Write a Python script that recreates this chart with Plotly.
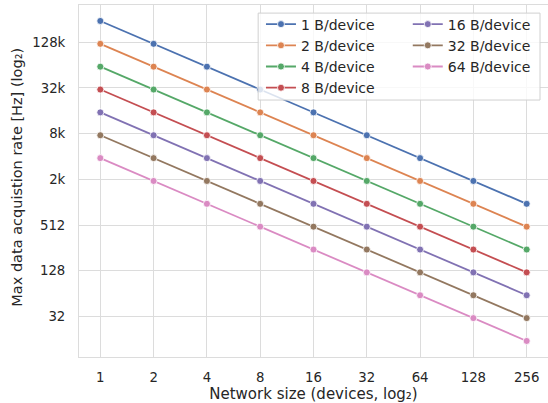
import math
import plotly.graph_objects as go

network_sizes = [1, 2, 4, 8, 16, 32, 64, 128, 256]
x_tick_labels = ["1", "2", "4", "8", "16", "32", "64", "128", "256"]
y_tick_values = [32, 128, 512, 2048, 8192, 32768, 131072]
y_tick_labels = ["32", "128", "512", "2k", "8k", "32k", "128k"]

rate_1B = [250000, 125000, 62500, 31250, 15625, 7812.5, 3906.25, 1953.125, 976.5625]
rate_2B = [125000, 62500, 31250, 15625, 7812.5, 3906.25, 1953.125, 976.5625, 488.28125]
rate_4B = [62500, 31250, 15625, 7812.5, 3906.25, 1953.125, 976.5625, 488.28125, 244.140625]
rate_8B = [31250, 15625, 7812.5, 3906.25, 1953.125, 976.5625, 488.28125, 244.140625, 122.0703125]
rate_16B = [15625, 7812.5, 3906.25, 1953.125, 976.5625, 488.28125, 244.140625, 122.0703125, 61.03515625]
rate_32B = [7812.5, 3906.25, 1953.125, 976.5625, 488.28125, 244.140625, 122.0703125, 61.03515625, 30.517578125]
rate_64B = [3906.25, 1953.125, 976.5625, 488.28125, 244.140625, 122.0703125, 61.03515625, 30.517578125, 15.2587890625]

series_names = ["1 B/device", "2 B/device", "4 B/device", "8 B/device",
                "16 B/device", "32 B/device", "64 B/device"]
series_values = [rate_1B, rate_2B, rate_4B, rate_8B, rate_16B, rate_32B, rate_64B]
colors = ["#4C72B0", "#DD8452", "#55A868", "#C44E52", "#8172B3", "#937860", "#DA8BC3"]
legend_ids = ["legend", "legend", "legend", "legend", "legend2", "legend2", "legend2"]

TEXT = "#262626"
GRID = "#dcdcdc"
FONT = "DejaVu Sans"

fig = go.Figure()
for name, vals, col, lg in zip(series_names, series_values, colors, legend_ids):
    fig.add_trace(go.Scatter(
        x=network_sizes, y=vals, name=name, mode="lines+markers",
        line=dict(color=col, width=1.8),
        marker=dict(color=col, size=7, line=dict(color="white", width=0.8)),
        legend=lg,
    ))

L2 = math.log10(2)
fig.update_layout(
    width=548, height=403,
    margin=dict(l=79, r=0, t=5, b=46),
    paper_bgcolor="white", plot_bgcolor="white",
    font=dict(family=FONT, size=13.3, color=TEXT),
    xaxis=dict(
        type="log", range=[-0.4 * L2, 8.4 * L2],
        tickvals=network_sizes, ticktext=x_tick_labels,
        showgrid=True, gridcolor=GRID, gridwidth=1,
        showline=True, linecolor=GRID, linewidth=1, mirror=True,
        ticks="", ticklabelstandoff=8, automargin=False,
        title=dict(text="Network size (devices, log₂)", font=dict(size=15, color=TEXT), standoff=4),
        zeroline=False,
    ),
    yaxis=dict(
        type="log", range=[3.23 * L2, 18.63 * L2],
        tickvals=y_tick_values, ticktext=y_tick_labels,
        showgrid=True, gridcolor=GRID, gridwidth=1,
        showline=True, linecolor=GRID, linewidth=1, mirror=True,
        ticks="", ticklabelstandoff=10, automargin=False,
        zeroline=False,
    ),
    annotations=[dict(
        text="Max data acquistion rate [Hz] (log₂)",
        xref="paper", yref="paper", x=-0.131, y=0.511,
        xanchor="center", yanchor="middle", textangle=-90,
        showarrow=False, font=dict(size=14.5, color=TEXT),
    )],
    legend=dict(
        x=0.388, y=0.99, xanchor="left", yanchor="top",
        bgcolor="rgba(0,0,0,0)", borderwidth=0,
        font=dict(size=14, color=TEXT), traceorder="normal",
    ),
    legend2=dict(
        x=0.701, y=0.99, xanchor="left", yanchor="top",
        bgcolor="rgba(0,0,0,0)", borderwidth=0,
        font=dict(size=14, color=TEXT), traceorder="normal",
    ),
    shapes=[dict(
        type="rect", xref="paper", yref="paper",
        x0=0.382, x1=0.983, y0=0.730, y1=0.977,
        fillcolor="rgba(255,255,255,0.8)", line=dict(color="#d0d0d0", width=1),
        layer="above",
    )],
    showlegend=True,
)

fig.write_html(
    "out.html",
    config={"displayModeBar": False},
    post_script="document.body.style.margin='0';document.body.style.padding='0';",
)
